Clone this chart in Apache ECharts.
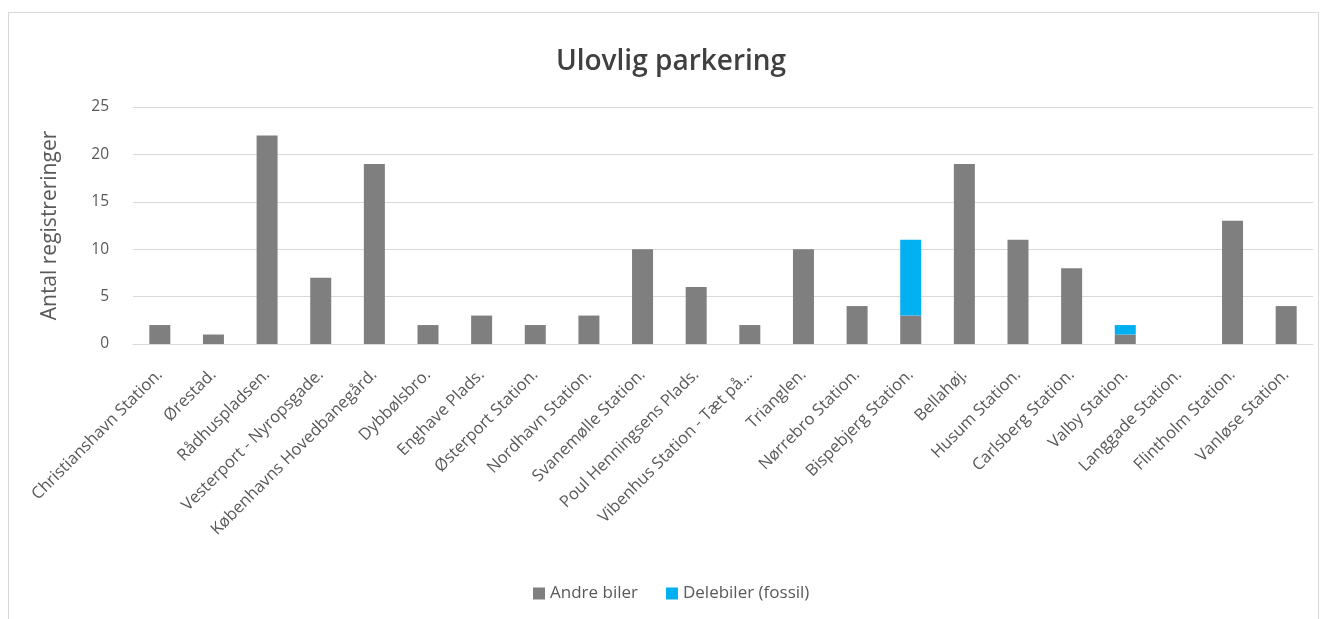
<!DOCTYPE html>
<html>
<head>
<meta charset="utf-8">
<script src="https://cdn.jsdelivr.net/npm/echarts@6/dist/echarts.min.js"></script>
<style>
html, body { margin: 0; padding: 0; background: #ffffff; }
#wrap { position: relative; width: 1324px; height: 619px; }
#frame { position: absolute; left: 8px; top: 12px; width: 1311px; height: 620px; border: 1px solid #d9d9d9; box-sizing: border-box; pointer-events: none; }
#ulovligChart { position: absolute; left: 0; top: 0; width: 1324px; height: 619px; }
</style>
</head>
<body>
<div id="wrap">
	<div id="frame"></div>
	<div id="ulovligChart"></div>
</div>
<script>
// kategorier (stationer)
const stationer = [
	"Christianshavn Station.", "Ørestad.", "Rådhuspladsen.", "Vesterport - Nyropsgade.",
	"Københavns Hovedbanegård.", "Dybbølsbro.", "Enghave Plads.", "Østerport Station.",
	"Nordhavn Station.", "Svanemølle Station.", "Poul Henningsens Plads.", "Vibenhus Station - Tæt på...",
	"Trianglen.", "Nørrebro Station.", "Bispebjerg Station.", "Bellahøj.",
	"Husum Station.", "Carlsberg Station.", "Valby Station.", "Langgade Station.",
	"Flintholm Station.", "Vanløse Station."
]
// serier
const andreBiler = [2, 1, 22, 7, 19, 2, 3, 2, 3, 10, 6, 2, 10, 4, 3, 19, 11, 8, 1, 0, 13, 4]
const delebilerFossil = [0, 0, 0, 0, 0, 0, 0, 0, 0, 0, 0, 0, 0, 0, 8, 0, 0, 0, 1, 0, 0, 0]
// y-akse
const yMin = 0
const yMax = 25
const yStep = 5

const txt = "#595959"
const fontFam = "'Open Sans', 'Noto Sans', sans-serif"

let myCharts = echarts.init(document.getElementById("ulovligChart"))
let option = {
	animation: false,
	color: ["#7f7f7f", "#00b0f0"],
	textStyle: { fontFamily: fontFam },
	title: {
		text: "Ulovlig parkering",
		left: 666,
		textAlign: "center",
		top: 43,
		textStyle: { fontSize: 28, fontWeight: 600, color: "#404040", fontFamily: fontFam },
	},
	legend: {
		bottom: 12,
		left: 528,
		itemWidth: 12,
		itemHeight: 12,
		itemGap: 28,
		icon: "rect",
		textStyle: { fontSize: 17, color: txt, fontFamily: fontFam },
		data: ["Andre biler", "Delebiler (fossil)"],
	},
	grid: { left: 133, right: 11, top: 107, bottom: 275 },
	xAxis: {
		type: "category",
		data: stationer,
		axisLine: { lineStyle: { color: "#d9d9d9" } },
		axisTick: { show: false },
		axisLabel: { rotate: 45, interval: 0, fontSize: 16.5, color: txt, margin: 28, fontFamily: fontFam },
	},
	yAxis: {
		type: "value",
		min: yMin,
		max: yMax,
		interval: yStep,
		name: "Antal registreringer",
		nameLocation: "middle",
		nameGap: 72,
		nameTextStyle: { fontSize: 21, color: txt, fontFamily: fontFam },
		axisLabel: { fontSize: 15.5, color: txt, margin: 24, fontFamily: fontFam },
		splitLine: { lineStyle: { color: "#d9d9d9" } },
	},
	series: [
		{ name: "Andre biler", type: "bar", stack: "s", barWidth: 21, data: andreBiler },
		{ name: "Delebiler (fossil)", type: "bar", stack: "s", barWidth: 21, data: delebilerFossil },
	],
}
myCharts.setOption(option)
</script>
</body>
</html>
